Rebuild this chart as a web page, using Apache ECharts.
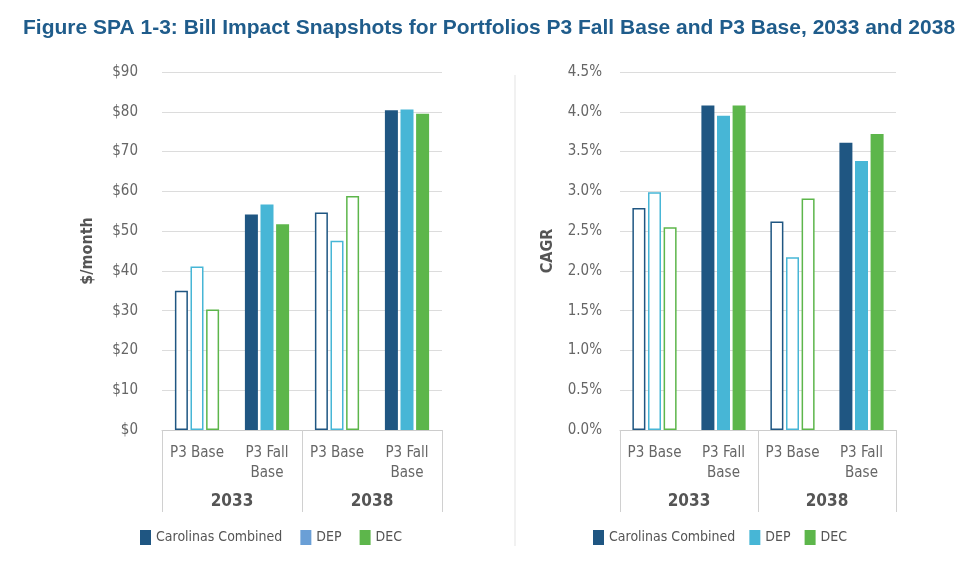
<!DOCTYPE html>
<html>
<head>
<meta charset="utf-8">
<script src="https://cdn.jsdelivr.net/npm/echarts@6/dist/echarts.min.js"></script>
<style>
  html, body { margin: 0; padding: 0; background: #fff; }
  #chart { width: 973px; height: 566px; }
</style>
</head>
<body>
<div id="chart"></div>
<script>
// data
let subCats = ['P3 Base', 'P3 Fall\nBase', 'P3 Base', 'P3 Fall\nBase'];
let years = ['2033', '2038'];
let seriesNames = ['Carolinas Combined', 'DEP', 'DEC'];
let hollow = [true, false, true, false];

let billCC = [35.0, 54.2, 54.7, 80.4];
let billDEP = [41.1, 56.7, 47.6, 80.6];
let billDEC = [30.3, 51.7, 58.8, 79.5];

let cagrCC = [2.79, 4.08, 2.62, 3.61];
let cagrDEP = [2.99, 3.95, 2.17, 3.38];
let cagrDEC = [2.55, 4.08, 2.91, 3.72];

let colors = ['#1f5682', '#47b6d6', '#5db64b'];
let leftLegendDEP = '#6a9fd6';

let font = '"Liberation Sans Narrow", "DejaVu Sans Condensed", sans-serif';
let grey = '#666666';

function makeData(values, color) {
    return values.map((v, i) => hollow[i]
        ? { value: v, itemStyle: { color: '#ffffff', borderColor: color, borderWidth: 1.5 } }
        : { value: v, itemStyle: { color: color } });
}

function barSeries(name, values, color, idx) {
    return {
        name: name,
        type: 'bar',
        xAxisIndex: idx * 2,
        yAxisIndex: idx,
        barWidth: 13,
        barGap: '20%',
        itemStyle: { color: color },
        data: makeData(values, color)
    };
}

function subAxis(gridIndex) {
    return {
        type: 'category',
        gridIndex: gridIndex,
        data: subCats,
        axisLine: { lineStyle: { color: '#cccccc', width: 1 } },
        axisTick: { show: false },
        axisLabel: { interval: 0, color: grey, fontFamily: font, fontSize: 15, lineHeight: 20, margin: 13 }
    };
}

function yearAxis(gridIndex) {
    return {
        type: 'category',
        gridIndex: gridIndex,
        position: 'bottom',
        data: years,
        axisLine: { show: false },
        axisTick: { show: true, length: 82, lineStyle: { color: '#d0d0d0' } },
        axisLabel: { interval: 0, color: '#555555', fontFamily: font, fontSize: 17, fontWeight: 'bold', margin: 63 }
    };
}

function valueAxis(gridIndex, max, interval, name, nameGap, fmt, margin) {
    return {
        type: 'value',
        gridIndex: gridIndex,
        min: 0,
        max: max,
        interval: interval,
        name: name,
        nameLocation: 'middle',
        nameGap: nameGap,
        nameTextStyle: { color: '#555555', fontFamily: font, fontSize: 16, fontWeight: 'bold' },
        axisLine: { show: false },
        axisTick: { show: false },
        splitLine: { lineStyle: { color: '#dcdcdc' } },
        axisLabel: { color: grey, fontFamily: font, fontSize: 15, margin: margin, formatter: fmt }
    };
}

let legendText = { color: '#555555', fontFamily: font, fontSize: 14 };

let option = {
    animation: false,
    title: {
        text: 'Figure SPA 1-3: Bill Impact Snapshots for Portfolios P3 Fall Base and P3 Base, 2033 and 2038',
        left: 18,
        top: 13,
        textStyle: { color: '#1f5c8b', fontFamily: 'Liberation Sans, Arial, sans-serif', fontSize: 21, fontWeight: 'bold' }
    },
    graphic: [{
        type: 'line',
        shape: { x1: 515, y1: 75, x2: 515, y2: 546 },
        style: { stroke: '#e3e3e3', lineWidth: 1 }
    }],
    legend: [{
        left: 135,
        top: 525,
        itemWidth: 11,
        itemHeight: 15,
        itemGap: 18,
        textStyle: legendText,
        data: [
            { name: seriesNames[0], icon: 'rect' },
            { name: seriesNames[1], icon: 'rect', itemStyle: { color: leftLegendDEP } },
            { name: seriesNames[2], icon: 'rect' }
        ]
    }, {
        left: 588,
        top: 525,
        itemWidth: 11,
        itemHeight: 15,
        itemGap: 14,
        textStyle: legendText,
        data: seriesNames.map(n => ({ name: n, icon: 'rect' }))
    }],
    grid: [
        { left: 162, top: 72, width: 280, height: 358 },
        { left: 620, top: 72, width: 276, height: 358 }
    ],
    xAxis: [subAxis(0), yearAxis(0), subAxis(1), yearAxis(1)],
    yAxis: [
        valueAxis(0, 90, 10, '$/month', 66, v => '$' + v, 24),
        valueAxis(1, 4.5, 0.5, 'CAGR', 64, v => v.toFixed(1) + '%', 18)
    ],
    series: [
        barSeries(seriesNames[0], billCC, colors[0], 0),
        barSeries(seriesNames[1], billDEP, colors[1], 0),
        barSeries(seriesNames[2], billDEC, colors[2], 0),
        barSeries(seriesNames[0], cagrCC, colors[0], 1),
        barSeries(seriesNames[1], cagrDEP, colors[1], 1),
        barSeries(seriesNames[2], cagrDEC, colors[2], 1)
    ]
};

let chart = echarts.init(document.getElementById('chart'));
chart.setOption(option, true);

window.onresize = () => {
    chart.resize();
};
</script>
</body>
</html>
